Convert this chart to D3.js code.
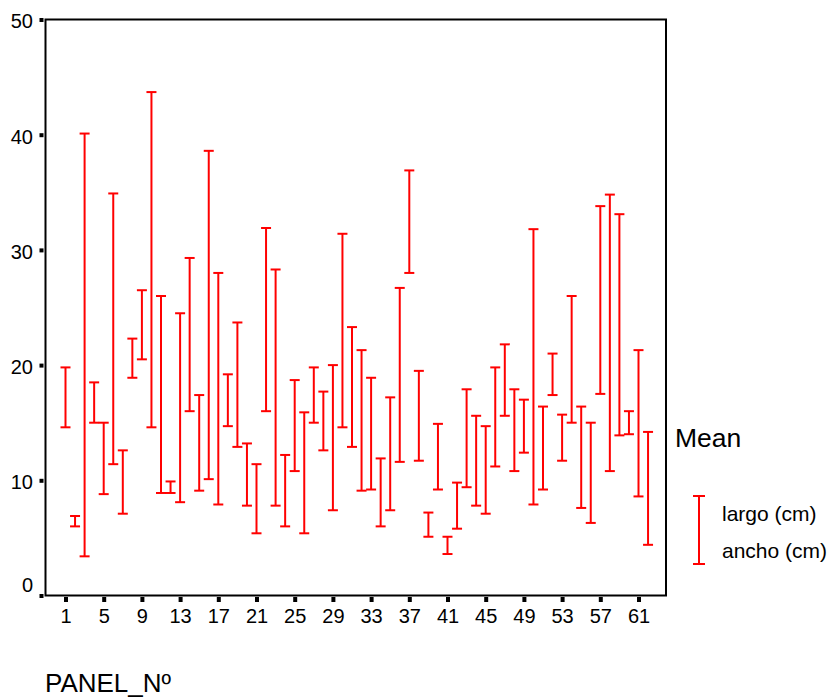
<!DOCTYPE html>
<html lang="es">
<head>
    <meta charset="UTF-8">
    <title>PANEL_Nº - largo / ancho</title>
    <script src="https://d3js.org/d3.v7.min.js"></script>
    <style>
        body { margin: 0; background: #fff; }
        svg { font-family: Arial, "Liberation Sans", sans-serif; }
        .hl line { stroke: #ff0000; stroke-width: 2px; }
    </style>
</head>
<body>
    <svg width="831" height="699"></svg>

    <script>
        // datos: media de largo y ancho por panel
        const panels = d3.range(1, 63);
        const largo = [
            19.8, 6.9, 40.1, 18.5, 15.0, 34.9, 12.6, 22.3, 26.5, 43.7,
            26.0, 9.9, 24.5, 29.3, 17.4, 38.6, 28.0, 19.2, 23.7, 13.2,
            11.4, 31.9, 28.3, 12.2, 18.7, 15.9, 19.8, 17.7, 20.0, 31.4,
            23.3, 21.3, 18.9, 11.9, 17.2, 26.7, 36.9, 19.5, 7.2, 14.9,
            5.1, 9.8, 17.9, 15.6, 14.7, 19.8, 21.8, 17.9, 17.0, 31.8,
            16.4, 21.0, 15.7, 26.0, 16.4, 15.0, 33.8, 34.8, 33.1, 16.0,
            21.3, 14.2
        ];
        const ancho = [
            14.6, 6.0, 3.4, 15.0, 8.8, 11.4, 7.1, 18.9, 20.5, 14.6,
            8.9, 8.9, 8.1, 16.0, 9.1, 10.1, 7.9, 14.7, 12.9, 7.8,
            5.4, 16.0, 7.8, 6.0, 10.8, 5.4, 15.0, 12.6, 7.4, 14.6,
            12.9, 9.1, 9.2, 6.0, 7.4, 11.6, 28.0, 11.7, 5.1, 9.2,
            3.6, 5.8, 9.4, 7.8, 7.1, 11.2, 15.6, 10.8, 12.4, 7.9,
            9.2, 17.4, 11.7, 15.0, 7.6, 6.3, 17.5, 10.8, 13.9, 14.0,
            8.6, 4.4
        ];
        const xTicks = d3.range(1, 62, 4);
        const yTicks = [0, 10, 20, 30, 40, 50];

        const data = panels.map((p, i) => ({ panel: p, largo: largo[i], ancho: ancho[i] }));

        const frame = { left: 45.5, right: 666, top: 19.5, bottom: 595.5 };
        const capW = 10;

        const svg = d3.select('svg');

        const x = d3.scaleLinear().domain([1, 61]).range([65.5, 638.5]);
        const y = d3.scaleLinear().domain([0, 50]).range([frame.bottom, frame.top]);

        // marco del grafico
        svg.append('rect')
            .attr('x', frame.left)
            .attr('y', frame.top)
            .attr('width', frame.right - frame.left)
            .attr('height', frame.bottom - frame.top)
            .attr('fill', 'none')
            .attr('stroke', '#000')
            .attr('stroke-width', 2);

        // eje Y
        const yAxis = svg.append('g')
            .attr('transform', `translate(${frame.left},0)`)
            .call(d3.axisLeft(y).tickValues(yTicks).tickSize(0).tickPadding(12.5));
        yAxis.select('.domain').remove();
        yAxis.selectAll('.tick text')
            .attr('font-size', 20)
            .attr('font-family', 'Arial, "Liberation Sans", sans-serif')
            .attr('fill', '#000')
            .attr('dy', d => d === 0 ? '-0.18em' : '0.42em');
        yAxis.selectAll('.tick').append('rect')
            .attr('x', -6).attr('y', -2)
            .attr('width', 4).attr('height', 4)
            .attr('fill', '#000');

        // eje X
        const xAxis = svg.append('g')
            .attr('transform', `translate(0,${frame.bottom})`)
            .call(d3.axisBottom(x).tickValues(xTicks).tickSize(0).tickPadding(13));
        xAxis.select('.domain').remove();
        xAxis.selectAll('.tick text')
            .attr('font-size', 20)
            .attr('font-family', 'Arial, "Liberation Sans", sans-serif')
            .attr('fill', '#000');
        xAxis.selectAll('.tick').append('rect')
            .attr('x', -2).attr('y', 1.5)
            .attr('width', 4).attr('height', 5)
            .attr('fill', '#000');

        // lineas alto-bajo
        const hl = svg.append('g')
            .attr('class', 'hl')
            .selectAll('g')
            .data(data)
            .join('g');

        hl.append('line')
            .attr('x1', d => x(d.panel)).attr('x2', d => x(d.panel))
            .attr('y1', d => y(d.largo)).attr('y2', d => y(d.ancho));
        hl.append('line')
            .attr('x1', d => x(d.panel) - capW / 2).attr('x2', d => x(d.panel) + capW / 2)
            .attr('y1', d => y(d.largo)).attr('y2', d => y(d.largo));
        hl.append('line')
            .attr('x1', d => x(d.panel) - capW / 2).attr('x2', d => x(d.panel) + capW / 2)
            .attr('y1', d => y(d.ancho)).attr('y2', d => y(d.ancho));

        // titulo del eje X
        svg.append('text')
            .attr('x', 45).attr('y', 692)
            .attr('font-size', 26)
            .text('PANEL_Nº');

        // leyenda
        svg.append('text')
            .attr('x', 675).attr('y', 447)
            .attr('font-size', 26.5)
            .text('Mean');

        const lg = svg.append('g').attr('class', 'hl');
        lg.append('line').attr('x1', 699).attr('x2', 699).attr('y1', 496).attr('y2', 564);
        lg.append('line').attr('x1', 693).attr('x2', 705).attr('y1', 496).attr('y2', 496);
        lg.append('line').attr('x1', 693).attr('x2', 705).attr('y1', 564).attr('y2', 564);

        svg.append('text').attr('x', 722).attr('y', 521).attr('font-size', 21).text('largo (cm)');
        svg.append('text').attr('x', 722).attr('y', 558).attr('font-size', 21).text('ancho (cm)');
    </script>
</body>
</html>
